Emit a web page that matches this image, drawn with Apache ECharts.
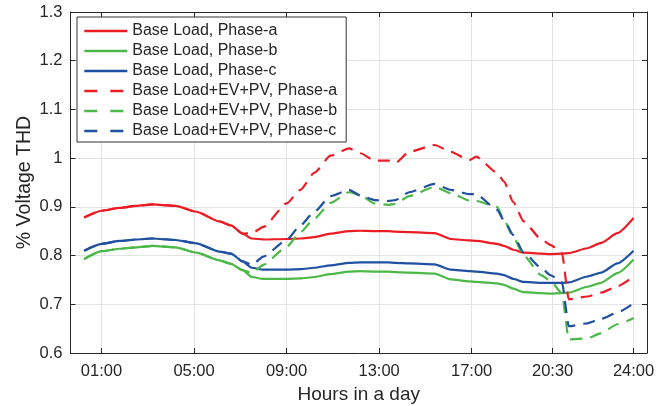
<!DOCTYPE html>
<html>
<head>
<meta charset="utf-8">
<script src="https://cdn.jsdelivr.net/npm/echarts@6/dist/echarts.min.js"></script>
<style>
  html, body { margin: 0; padding: 0; background: #fff; }
  #chart { width: 664px; height: 406px; }
</style>
</head>
<body>
<div id="chart"></div>
<script>
  // hours of the day (x) and %THD readings (y)
  var hours = [0.25, 1, 1.8, 2.5, 3.2, 4.2, 5.1, 6.1, 6.6, 7.1, 7.5, 8, 9, 9.6, 10.2, 10.9, 11.7, 12.2, 12.8, 13.4,
    13.7, 14.3, 15.4, 16.1, 16.9, 17.2, 18.1, 18.4, 18.8, 19.25, 20, 20.4, 20.9, 21.2, 22, 22.6, 23.3, 24];

  var baseA = [0.878, 0.892, 0.898, 0.902, 0.905, 0.902, 0.890, 0.870, 0.862, 0.845, 0.835, 0.833, 0.834, 0.835, 0.838, 0.845, 0.850, 0.851, 0.850, 0.850,
    0.849, 0.848, 0.846, 0.834, 0.831, 0.830, 0.824, 0.820, 0.812, 0.806, 0.804, 0.803, 0.804, 0.805, 0.815, 0.826, 0.846, 0.877];
  var baseB = [0.793, 0.809, 0.814, 0.817, 0.820, 0.817, 0.806, 0.790, 0.783, 0.770, 0.756, 0.752, 0.752, 0.753, 0.756, 0.762, 0.767, 0.768, 0.767, 0.767,
    0.766, 0.765, 0.763, 0.751, 0.747, 0.746, 0.743, 0.740, 0.732, 0.725, 0.723, 0.722, 0.723, 0.724, 0.736, 0.744, 0.764, 0.792];
  var baseC = [0.810, 0.824, 0.830, 0.833, 0.835, 0.832, 0.825, 0.808, 0.804, 0.788, 0.775, 0.771, 0.771, 0.772, 0.775, 0.780, 0.785, 0.786, 0.786, 0.786,
    0.785, 0.784, 0.782, 0.771, 0.768, 0.767, 0.763, 0.760, 0.752, 0.746, 0.744, 0.744, 0.744, 0.745, 0.757, 0.765, 0.784, 0.810];

  var evpvA = [0.878, 0.892, 0.898, 0.902, 0.905, 0.902, 0.890, 0.870, 0.862, 0.845, 0.846, 0.859, 0.907, 0.935, 0.970, 1.005, 1.020, 1.010, 0.995, 0.995,
    0.990, 1.013, 1.027, 1.013, 0.996, 1.003, 0.970, 0.952, 0.910, 0.870, 0.834, 0.822, 0.806, 0.710, 0.716, 0.724, 0.737, 0.757];
  var evpvB = [0.793, 0.809, 0.814, 0.817, 0.820, 0.817, 0.806, 0.790, 0.783, 0.770, 0.764, 0.781, 0.818, 0.848, 0.876, 0.908, 0.930, 0.924, 0.907, 0.904,
    0.906, 0.922, 0.941, 0.928, 0.913, 0.912, 0.900, 0.873, 0.838, 0.800, 0.760, 0.748, 0.723, 0.628, 0.630, 0.641, 0.659, 0.672];
  var evpvC = [0.810, 0.824, 0.830, 0.833, 0.835, 0.832, 0.825, 0.808, 0.804, 0.788, 0.781, 0.798, 0.832, 0.862, 0.890, 0.922, 0.935, 0.923, 0.914, 0.912,
    0.914, 0.930, 0.947, 0.935, 0.926, 0.926, 0.894, 0.872, 0.842, 0.806, 0.775, 0.760, 0.746, 0.655, 0.661, 0.670, 0.683, 0.702];

  var xTickValues = [1, 5, 9, 13, 17, 20.5, 24];
  var xTickLabels = ['01:00', '05:00', '09:00', '13:00', '17:00', '20:30', '24:00'];

  var seriesNames = ['Base Load, Phase-a', 'Base Load, Phase-b', 'Base Load, Phase-c',
    'Base Load+EV+PV, Phase-a', 'Base Load+EV+PV, Phase-b', 'Base Load+EV+PV, Phase-c'];

  var RED = '#ec1c24', GREEN = '#4cb848', BLUE = '#1f50a2';
  var AX = '#262626';
  var FONT = '"Liberation Sans", Arial, Helvetica, sans-serif';

  function pairs(vals) {
    return hours.map(function (h, i) { return [h, vals[i]]; });
  }

  function line(name, vals, color, dashed) {
    return {
      name: name,
      type: 'line',
      symbol: 'none',
      smooth: 0.2,
      smoothMonotone: 'x',
      data: pairs(vals),
      lineStyle: { color: color, width: 2.2, type: dashed ? [12, 8] : 'solid' },
      itemStyle: { color: color }
    };
  }

  var chart = echarts.init(document.getElementById('chart'));

  var xMin = -0.34, xMax = 24.58;

  var option = {
    animation: false,
    textStyle: { fontFamily: FONT },
    grid: { left: 70.5, right: 17, top: 12, bottom: 53, outerBoundsMode: 'none', containLabel: false },
    legend: {
      orient: 'vertical',
      left: 77,
      top: 17,
      itemWidth: 43,
      itemHeight: 14,
      itemGap: 4,
      padding: [6, 9, 3, 6],
      backgroundColor: '#fff',
      borderColor: '#333',
      borderWidth: 1,
      borderRadius: 0,
      itemStyle: { opacity: 0 },
      lineStyle: { width: 2.6 },
      textStyle: { fontSize: 16, color: AX, lineHeight: 16, fontFamily: FONT },
      data: [
        { name: seriesNames[0] },
        { name: seriesNames[1] },
        { name: seriesNames[2] },
        { name: seriesNames[3], lineStyle: { type: [13, 13] } },
        { name: seriesNames[4], lineStyle: { type: [13, 13] } },
        { name: seriesNames[5], lineStyle: { type: [13, 13] } }
      ]
    },
    xAxis: [
      {
        type: 'value',
        min: xMin,
        max: xMax,
        position: 'bottom',
        name: 'Hours in a day',
        nameLocation: 'middle',
        nameGap: 32,
        nameMoveOverlap: false,
        nameTextStyle: { fontSize: 19, color: AX, fontFamily: FONT },
        axisLine: { onZero: false, lineStyle: { color: AX, width: 1 } },
        axisTick: { inside: true, length: 5, customValues: xTickValues, lineStyle: { color: AX } },
        axisLabel: {
          customValues: xTickValues,
          margin: 10,
          fontSize: 16.5,
          color: AX,
          fontFamily: FONT,
          formatter: function (v) {
            var i = xTickValues.indexOf(v);
            return i >= 0 ? xTickLabels[i] : '';
          }
        },
        splitLine: { show: true, lineStyle: { color: '#e3e3e3', width: 1 } }
      },
      {
        type: 'value',
        min: xMin,
        max: xMax,
        position: 'top',
        axisLine: { onZero: false, lineStyle: { color: AX, width: 1 } },
        axisTick: { inside: true, length: 5, customValues: xTickValues, lineStyle: { color: AX } },
        axisLabel: { show: false },
        splitLine: { show: false }
      }
    ],
    yAxis: [
      {
        type: 'value',
        min: 0.6,
        max: 1.3,
        interval: 0.1,
        name: '% Voltage THD',
        nameLocation: 'middle',
        nameRotate: 90,
        nameGap: 36,
        nameMoveOverlap: false,
        nameTextStyle: { fontSize: 19.5, color: AX, fontFamily: FONT },
        axisLine: { show: true, onZero: false, lineStyle: { color: AX, width: 1 } },
        axisTick: { show: true, inside: true, length: 5, lineStyle: { color: AX } },
        axisLabel: {
          margin: 8,
          fontSize: 16.5,
          color: AX,
          fontFamily: FONT,
          formatter: function (v) { return String(Math.round(v * 10) / 10); }
        },
        splitLine: { show: true, lineStyle: { color: '#e3e3e3', width: 1 } }
      },
      {
        type: 'value',
        min: 0.6,
        max: 1.3,
        interval: 0.1,
        position: 'right',
        axisLine: { show: true, onZero: false, lineStyle: { color: AX, width: 1 } },
        axisTick: { show: true, inside: true, length: 5, lineStyle: { color: AX } },
        axisLabel: { show: false },
        splitLine: { show: false }
      }
    ],
    series: [
      line(seriesNames[0], baseA, RED, false),
      line(seriesNames[1], baseB, GREEN, false),
      line(seriesNames[2], baseC, BLUE, false),
      line(seriesNames[3], evpvA, RED, true),
      line(seriesNames[4], evpvB, GREEN, true),
      line(seriesNames[5], evpvC, BLUE, true)
    ]
  };

  chart.setOption(option);
</script>
</body>
</html>
